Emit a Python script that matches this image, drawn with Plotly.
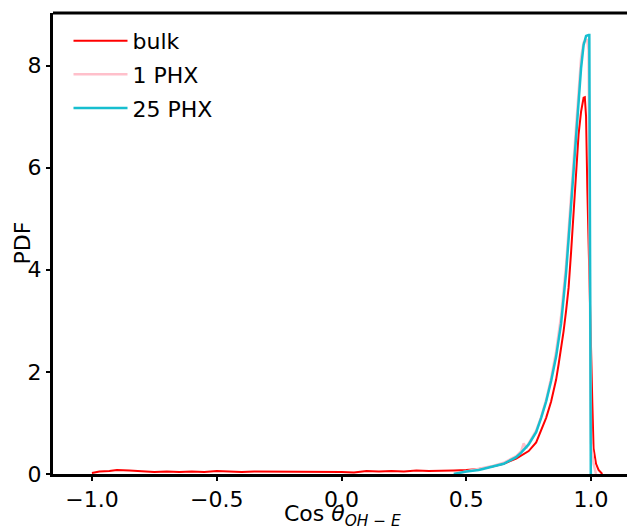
import plotly.graph_objects as go

# ---- data ----
bulk_x = [-1.0, -0.97, -0.93, -0.9, -0.85, -0.8, -0.75, -0.7, -0.65, -0.6, -0.55,
          -0.5, -0.45, -0.4, -0.35, -0.3, -0.25, -0.2, -0.15, -0.1, -0.05, 0.0,
          0.05, 0.1, 0.15, 0.2, 0.25, 0.3, 0.35, 0.4, 0.45, 0.5, 0.55, 0.6, 0.65,
          0.7, 0.73, 0.75, 0.78, 0.8, 0.82, 0.84, 0.85, 0.86, 0.87, 0.88, 0.89,
          0.9, 0.91, 0.92, 0.93, 0.94, 0.95, 0.96, 0.97, 0.975, 0.98, 0.985,
          0.99, 0.995, 1.0, 1.005, 1.01, 1.015, 1.02, 1.03, 1.04, 1.045]
bulk_y = [0.02, 0.05, 0.06, 0.08, 0.07, 0.05, 0.04, 0.05, 0.04, 0.05, 0.04,
          0.06, 0.05, 0.04, 0.05, 0.05, 0.04, 0.05, 0.04, 0.05, 0.05, 0.04,
          0.03, 0.06, 0.05, 0.06, 0.05, 0.07, 0.06, 0.06, 0.07, 0.08, 0.1, 0.14, 0.2,
          0.3, 0.38, 0.45, 0.62, 0.86, 1.1, 1.42, 1.62, 1.85, 2.15, 2.45, 2.8,
          3.2, 3.65, 4.35, 5.2, 6.0, 6.65, 7.1, 7.37, 7.38, 7.0, 5.6,
          4.4, 3.4, 2.4, 1.4, 0.5, 0.3, 0.2, 0.08, 0.02, 0.0]

phx1_x = [0.45, 0.5, 0.55, 0.6, 0.65, 0.7, 0.72, 0.73, 0.74, 0.75, 0.78, 0.8,
          0.82, 0.84, 0.86, 0.88, 0.9, 0.92, 0.94, 0.95, 0.96, 0.97, 0.98,
          0.985, 0.99, 0.995, 1.0, 1.01, 1.02]
phx1_y = [0.0, 0.05, 0.09, 0.15, 0.22, 0.35, 0.45, 0.6, 0.5, 0.6, 0.85, 1.12,
          1.45, 1.88, 2.4, 3.1, 4.1, 5.5, 6.9, 7.6, 8.15, 8.45, 8.5,
          8.5, 8.3, 4.0, 0.6, 0.2, 0.0]

phx25_x = [0.45, 0.5, 0.55, 0.6, 0.65, 0.7, 0.72, 0.75, 0.78, 0.8, 0.82, 0.84,
           0.86, 0.88, 0.9, 0.91, 0.92, 0.93, 0.94, 0.95, 0.96, 0.97, 0.98,
           0.99, 0.993, 0.999]
phx25_y = [0.0, 0.05, 0.08, 0.14, 0.2, 0.33, 0.42, 0.58, 0.82, 1.1, 1.42, 1.82,
           2.3, 2.95, 3.95, 4.6, 5.25, 5.95, 6.6, 7.3, 7.95, 8.4, 8.58,
           8.6, 8.6, 0.0]

x_ticks = [-1.0, -0.5, 0.0, 0.5, 1.0]
x_tick_labels = ["\u22121.0", "\u22120.5", "0.0", "0.5", "1.0"]
y_ticks = [0, 2, 4, 6, 8]
x_title = "Cos <i>\u03b8</i><sub><i>OH \u2212 E</i></sub>"
y_title = "PDF"

FONT = "DejaVu Sans"
FS = 22

fig = go.Figure()
fig.add_trace(go.Scatter(x=bulk_x, y=bulk_y, mode="lines", name="bulk",
                         legendgroup="a", line=dict(color="#ff0000", width=2)))
fig.add_trace(go.Scatter(x=phx1_x, y=phx1_y, mode="lines", name="1 PHX",
                         legendgroup="b", line=dict(color="#ffc0cb", width=2.5)))
fig.add_trace(go.Scatter(x=phx25_x, y=phx25_y, mode="lines", name="25 PHX",
                         legendgroup="c", line=dict(color="#17becf", width=2.5)))

fig.update_layout(
    width=627, height=529,
    margin=dict(l=53, r=0, t=13, b=55),
    paper_bgcolor="white", plot_bgcolor="white",
    font=dict(family=FONT, size=FS, color="black"),
    showlegend=True,
    legend=dict(x=0.027, y=0.985, xanchor="left", yanchor="top",
                bgcolor="rgba(0,0,0,0)", font=dict(size=FS, family=FONT),
                tracegroupgap=2, itemwidth=54),
    xaxis=dict(range=[-1.156, 1.144], tickvals=x_ticks, ticktext=x_tick_labels,
               showgrid=False, zeroline=False, showline=True, linecolor="black",
               linewidth=3, ticks="outside", ticklen=4, tickwidth=1.5,
               tickcolor="black", mirror=False, automargin=False),
    yaxis=dict(range=[0, 9.03], tickvals=y_ticks,
               showgrid=False, zeroline=False, showline=True, linecolor="black",
               linewidth=3, ticks="outside", ticklen=4, tickwidth=1.5,
               tickcolor="black", mirror=False, automargin=False),
    annotations=[
        dict(text=x_title, xref="paper", yref="paper", x=0.5035, y=-0.1232,
             xanchor="center", yanchor="bottom", showarrow=False, borderpad=0,
             font=dict(size=FS, family=FONT)),
        dict(text=y_title, xref="paper", yref="paper", x=-0.054, y=0.5,
             xanchor="center", yanchor="middle", textangle=-90, showarrow=False,
             font=dict(size=FS, family=FONT)),
    ],
)
# top spine
fig.add_shape(type="line", xref="paper", yref="paper", x0=0, x1=1, y0=1, y1=1,
              line=dict(color="black", width=3))

fig.write_html("out.html")
